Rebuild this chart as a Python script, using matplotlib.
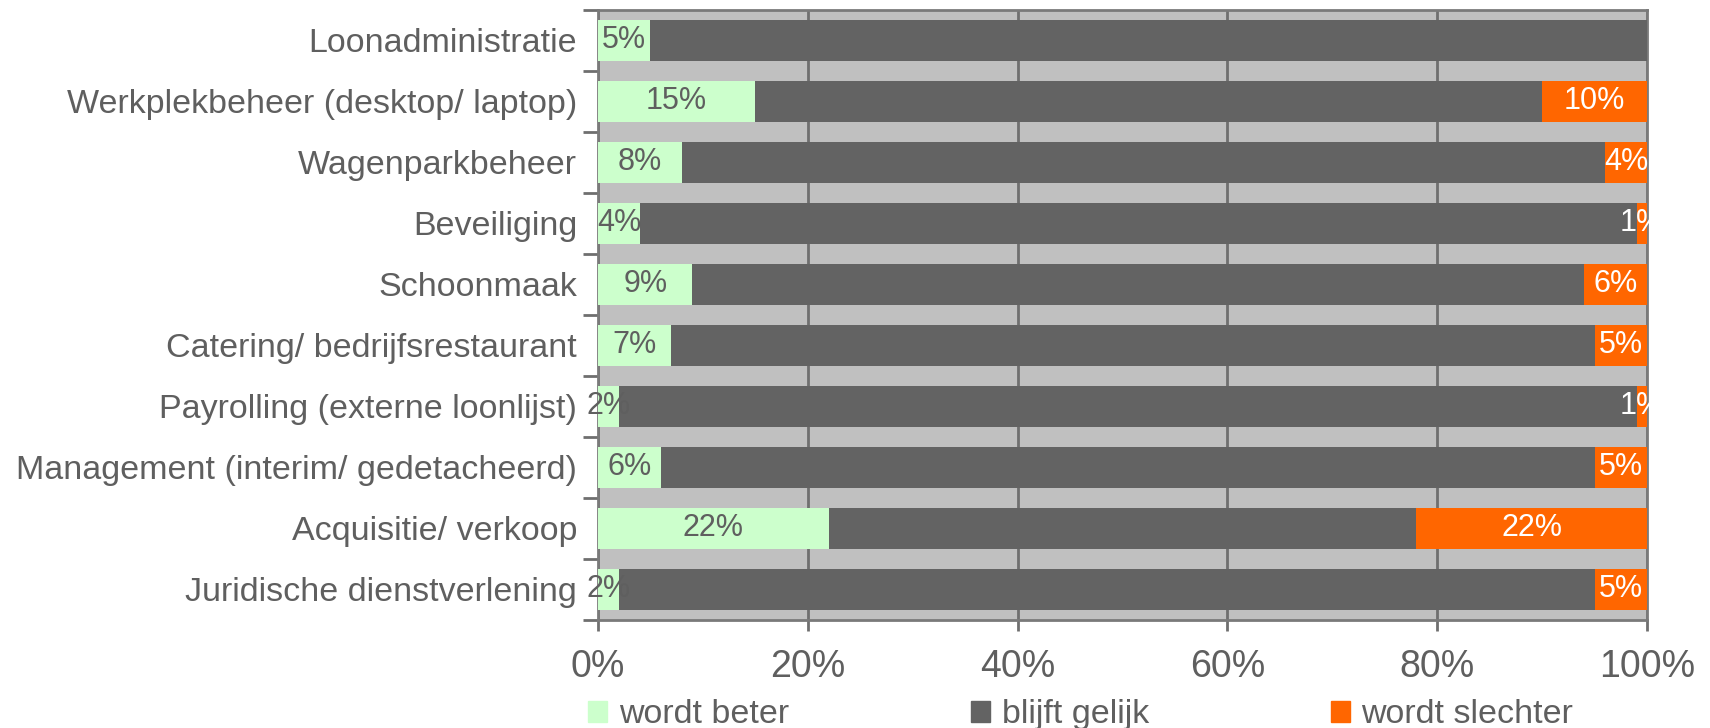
import numpy as np
import matplotlib.pyplot as plt
from matplotlib.patches import Patch

plt.rcParams['font.family'] = ['Liberation Sans', 'DejaVu Sans']

categories = ['Loonadministratie', 'Werkplekbeheer (desktop/ laptop)', 'Wagenparkbeheer',
              'Beveiliging', 'Schoonmaak', 'Catering/ bedrijfsrestaurant',
              'Payrolling (externe loonlijst)', 'Management (interim/ gedetacheerd)',
              'Acquisitie/ verkoop', 'Juridische dienstverlening']
beter = [5, 15, 8, 4, 9, 7, 2, 6, 22, 2]
gelijk = [95, 75, 88, 95, 85, 88, 97, 89, 56, 93]
slechter = [0, 10, 4, 1, 6, 5, 1, 5, 22, 5]
series_names = ['wordt beter', 'blijft gelijk', 'wordt slechter']
xticks = [0, 20, 40, 60, 80, 100]

c_beter = '#CCFFCC'
c_gelijk = '#636363'
c_slechter = '#FF6600'
txt = '#5f5f5f'

fig = plt.figure(figsize=(17.1, 7.28), dpi=100)
ax = fig.add_axes([0.3497, 0.1484, 0.6135, 0.8379])
ax.set_facecolor('#C0C0C0')

y = np.arange(len(categories))
h = 0.66
ax.barh(y, beter, height=h, color=c_beter, zorder=3)
ax.barh(y, gelijk, left=beter, height=h, color=c_gelijk, zorder=3)
left2 = np.array(beter) + np.array(gelijk)
ax.barh(y, slechter, left=left2, height=h, color=c_slechter, zorder=3)

for i in range(len(categories)):
    if beter[i] > 0:
        ax.text(beter[i] / 2, y[i], f'{beter[i]}%', ha='center', va='center',
                fontsize=22, color=txt, zorder=4, clip_on=False)
    if slechter[i] > 0:
        ax.text(left2[i] + slechter[i] / 2, y[i], f'{slechter[i]}%', ha='center',
                va='center', fontsize=22, color='white', zorder=4, clip_on=False)

ax.set_xlim(0, 100)
ax.set_ylim(len(categories) - 0.5, -0.5)
ax.set_xticks(xticks)
ax.set_xticklabels([f'{v}%' for v in xticks], fontsize=27, color=txt)
ax.xaxis.grid(True, color='#6f6f6f', linewidth=2, zorder=1)
ax.set_axisbelow(True)
ax.tick_params(axis='x', length=8, width=2, color='#6f6f6f', pad=13)

ax.set_yticks(y)
ax.set_yticklabels(categories, fontsize=24.5, color=txt)
ax.tick_params(axis='y', which='major', length=0, pad=15)
ax.set_yticks(np.arange(-0.5, len(categories)), minor=True)
ax.tick_params(axis='y', which='minor', length=11, width=2, color='#6f6f6f')

for s in ax.spines.values():
    s.set_color('#7a7a7a')
    s.set_linewidth(2)

handles = [Patch(color=c_beter), Patch(color=c_gelijk), Patch(color=c_slechter)]
fig.legend(handles, series_names, loc='center', bbox_to_anchor=(0.632, 0.018),
           ncol=3, frameon=False, fontsize=24.5, handlelength=0.55, handleheight=0.55,
           handletextpad=0.35, columnspacing=5.35, labelcolor=txt,
           borderpad=0, borderaxespad=0)

fig.savefig('out.png', dpi=100)
